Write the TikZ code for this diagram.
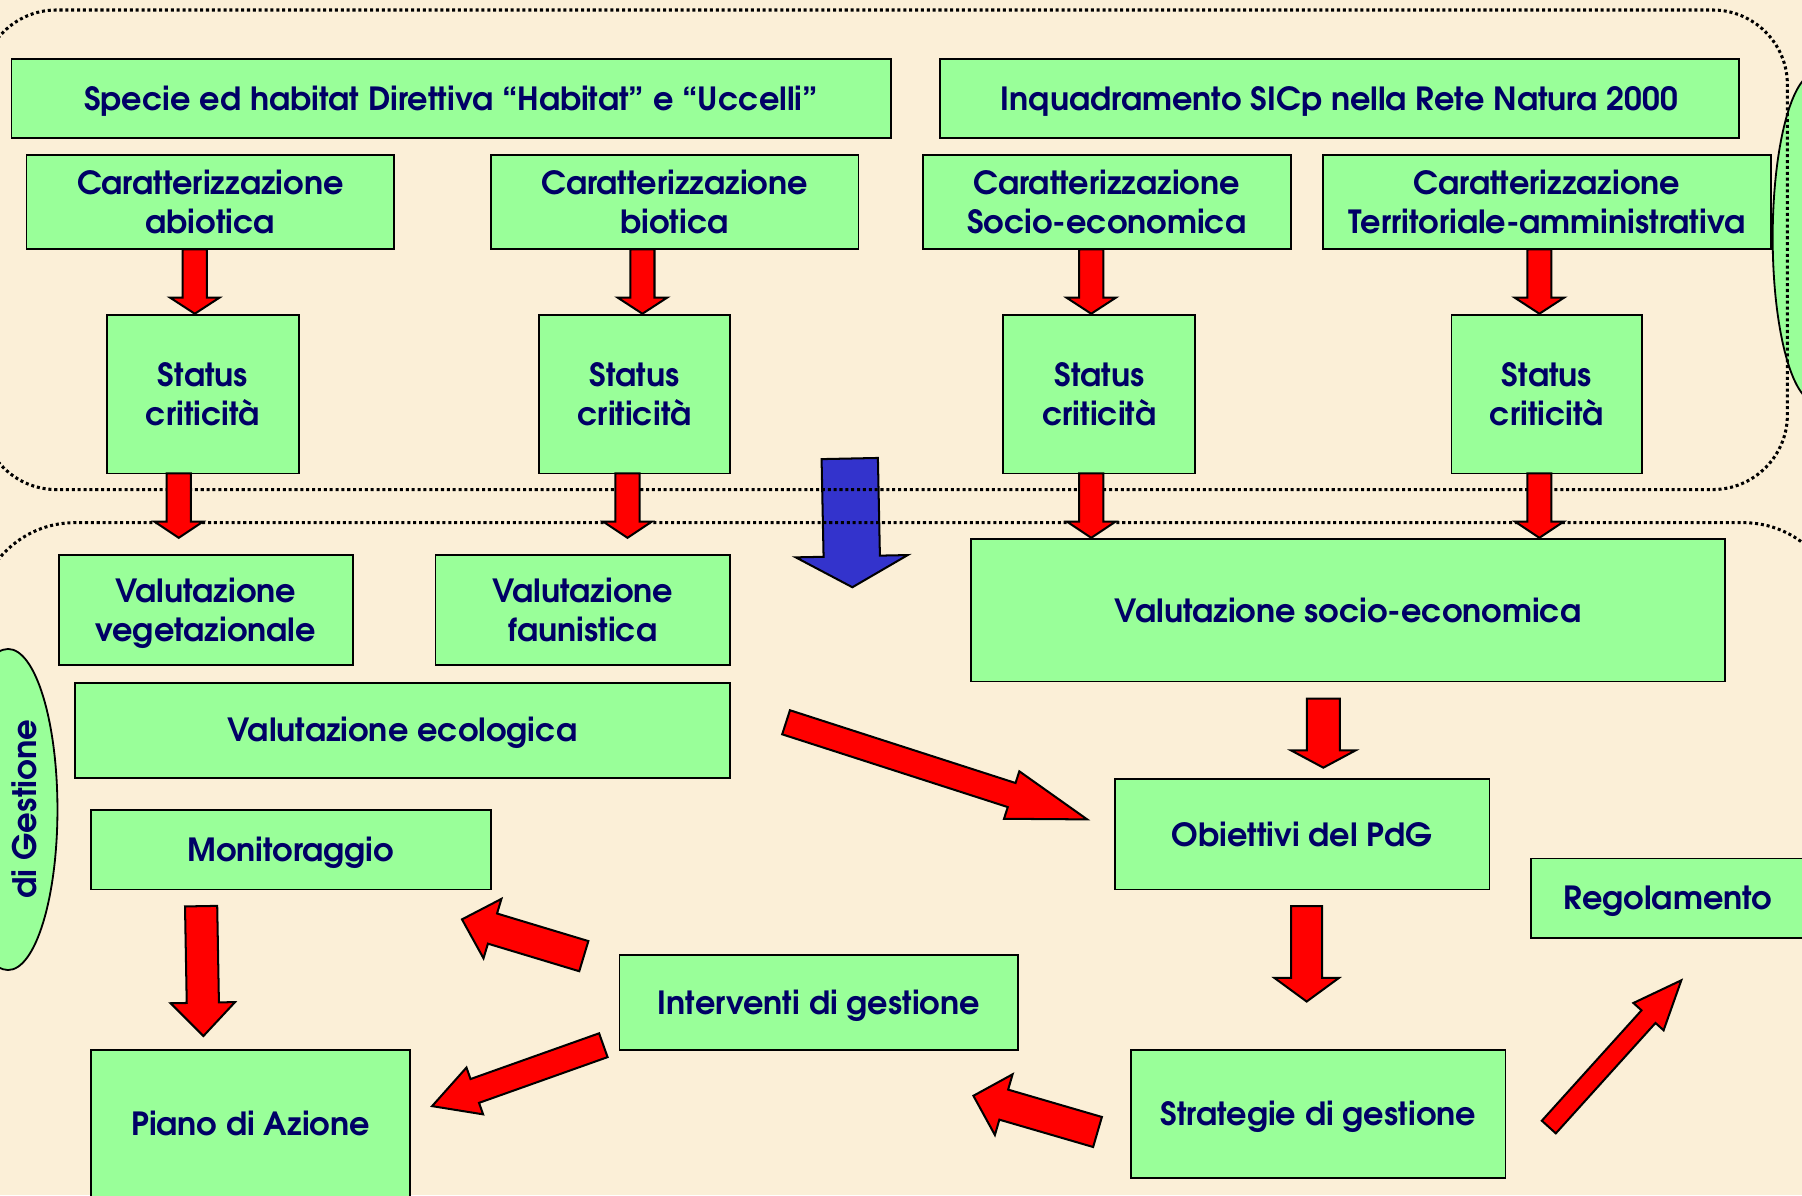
\documentclass[tikz,border=0pt]{standalone}
\usepackage{fontspec}
\setmainfont{TeX Gyre Adventor}
\usetikzlibrary{calc}
\definecolor{bg}{RGB}{251,239,215}
\definecolor{boxgreen}{RGB}{153,255,153}
\definecolor{navy}{RGB}{0,0,102}
\definecolor{bluearrow}{RGB}{51,51,204}
\tikzset{
  box/.style={draw=black, line width=0.45pt, fill=boxgreen, inner sep=0pt,
    text=navy, font=\fontsize{7.9}{9.7}\selectfont\bfseries, align=center},
  dotline/.style={draw=black, line width=0.75pt, dash pattern=on 0.75pt off 0.7pt},
  arrowstyle/.style={draw=black, line width=0.5pt, line join=miter},
  oval/.style={draw=black, line width=0.45pt, fill=boxgreen},
}
% #1 fill, #2 from, #3 to, #4 half shaft, #5 half head, #6 head length (cm)
\newcommand\blockarrow[6][red]{%
  \draw[arrowstyle, fill=#1] let \p1=(#2), \p2=(#3), \n1={atan2(\y2-\y1,\x2-\x1)} in
    ($(\p1)+(\n1+90:#4cm)$)
    -- ($(\p2)+(\n1+180:#6cm)+(\n1+90:#4cm)$)
    -- ($(\p2)+(\n1+180:#6cm)+(\n1+90:#5cm)$)
    -- (\p2)
    -- ($(\p2)+(\n1+180:#6cm)+(\n1-90:#5cm)$)
    -- ($(\p2)+(\n1+180:#6cm)+(\n1-90:#4cm)$)
    -- ($(\p1)+(\n1-90:#4cm)$) -- cycle;}
% name, x1, y1, x2, y2, text
\newcommand\bx[6]{%
  \node[box, minimum width={(#4-#2)*0.01cm}, minimum height={(#5-#3)*0.01cm}]
    (#1) at ({(#2+#4)/2},{(#3+#5)/2}) {\rule{0pt}{7.4pt}#6\rule[-1.5pt]{0pt}{1.5pt}};}
\begin{document}
\begin{tikzpicture}[x=0.01cm, y=-0.01cm]
\useasboundingbox (0,0) rectangle (1568,1040);
\clip (0,0) rectangle (1568,1040);
\fill[bg] (0,0) rectangle (1568,1040);

% ovals (cut by the edges)
\draw[oval] (7,704.4) ellipse [x radius=43, y radius=139.7];
\node[text=navy, rotate=90, font=\fontsize{8}{9}\selectfont\bfseries] (lg) at (21,704) {di Gestione};
\draw[oval] (1580,206.7) ellipse [x radius=37.5, y radius=143];

% boxes
\bx{spec}{10}{51}{775}{120}{Specie ed habitat Direttiva “Habitat” e “Uccelli”}
\bx{inq}{818}{51}{1513}{120}{Inquadramento SICp nella Rete Natura 2000}
\bx{cab}{23}{135}{343}{217}{Caratterizzazione\\abiotica}
\bx{cbi}{427}{135}{747}{217}{Caratterizzazione\\biotica}
\bx{cse}{803}{135}{1123}{217}{Caratterizzazione\\Socio-economica}
\bx{cta}{1151}{135}{1541}{217}{Caratterizzazione\\Territoriale-amministrativa}
\bx{st1}{93}{274}{260}{412}{Status\\criticità}
\bx{st2}{469}{274}{635}{412}{Status\\criticità}
\bx{st3}{873}{274}{1040}{412}{Status\\criticità}
\bx{st4}{1263}{274}{1429}{412}{Status\\criticità}
\bx{vveg}{51}{483}{307}{579}{Valutazione\\vegetazionale}
\bx{vfau}{379}{483}{635}{579}{Valutazione\\faunistica}
\bx{vse}{845}{469}{1501}{593}{Valutazione socio-economica}
\bx{veco}{65}{594}{635}{677}{Valutazione ecologica}
\bx{mon}{79}{705}{427}{774}{Monitoraggio}
\bx{obi}{970}{678}{1296}{774}{Obiettivi del PdG}
\bx{reg}{1332}{747}{1571}{816}{Regolamento}
\bx{int}{539}{831}{886}{914}{Interventi di gestione}
\bx{pia}{79}{914}{357}{1042}{Piano di Azione}
\bx{str}{984}{914}{1310}{1025}{Strategie di gestione}

% blue arrow (under the dotted lines)
\coordinate (blS) at (739.4,399);
\coordinate (blE) at (741.7,511);
\blockarrow[bluearrow]{blS}{blE}{0.245}{0.487}{0.27}

% dotted frames
\draw[dotline, rounded corners=0.65cm] (-16,8.7) rectangle (1555.3,426);
\draw[dotline, rounded corners=0.85cm] (-20,454.8) rectangle (1602,1120);

% red arrow end points
\coordinate (a1s) at (169.5,217);  \coordinate (a1e) at (169.5,273);
\coordinate (a2s) at (559,217);    \coordinate (a2e) at (559,273);
\coordinate (a3s) at (949.5,217);  \coordinate (a3e) at (949.5,273);
\coordinate (a4s) at (1339.5,217); \coordinate (a4e) at (1339.5,273);
\coordinate (b1s) at (155.5,412);  \coordinate (b1e) at (155.5,468);
\coordinate (b2s) at (546,412);    \coordinate (b2e) at (546,468);
\coordinate (b3s) at (949.5,412);  \coordinate (b3e) at (949.5,468);
\coordinate (b4s) at (1339.5,412); \coordinate (b4e) at (1339.5,468);
\coordinate (c1s) at (684,628.5);  \coordinate (c1e) at (946,713);
\coordinate (d1s) at (1151.5,608); \coordinate (d1e) at (1151.5,668);
\coordinate (d2s) at (1137,788.5); \coordinate (d2e) at (1137,871.5);
\coordinate (e1s) at (175,788.5);  \coordinate (e1e) at (177,901.5);
\coordinate (f1s) at (508,832);    \coordinate (f1e) at (402,800);
\coordinate (g1s) at (525,909.5);  \coordinate (g1e) at (376,962.5);
\coordinate (h1s) at (955,985);    \coordinate (h1e) at (847,953.5);
\coordinate (i1s) at (1347.7,980.7); \coordinate (i1e) at (1463,853);

\blockarrow{a1s}{a1e}{0.105}{0.215}{0.14}
\blockarrow{a2s}{a2e}{0.105}{0.215}{0.14}
\blockarrow{a3s}{a3e}{0.105}{0.215}{0.14}
\blockarrow{a4s}{a4e}{0.105}{0.215}{0.14}
\blockarrow{b1s}{b1e}{0.105}{0.21}{0.14}
\blockarrow{b2s}{b2e}{0.105}{0.21}{0.14}
\blockarrow{b3s}{b3e}{0.105}{0.21}{0.14}
\blockarrow{b4s}{b4e}{0.105}{0.21}{0.14}
\blockarrow{c1s}{c1e}{0.11}{0.217}{0.69}
\blockarrow{d1s}{d1e}{0.143}{0.28}{0.15}
\blockarrow{d2s}{d2e}{0.135}{0.28}{0.205}
\blockarrow{e1s}{e1e}{0.14}{0.28}{0.29}
\blockarrow{f1s}{f1e}{0.137}{0.27}{0.277}
\blockarrow{g1s}{g1e}{0.11}{0.216}{0.394}
\blockarrow{h1s}{h1e}{0.136}{0.275}{0.275}
\blockarrow{i1s}{i1e}{0.082}{0.177}{0.426}
\end{tikzpicture}
\end{document}
